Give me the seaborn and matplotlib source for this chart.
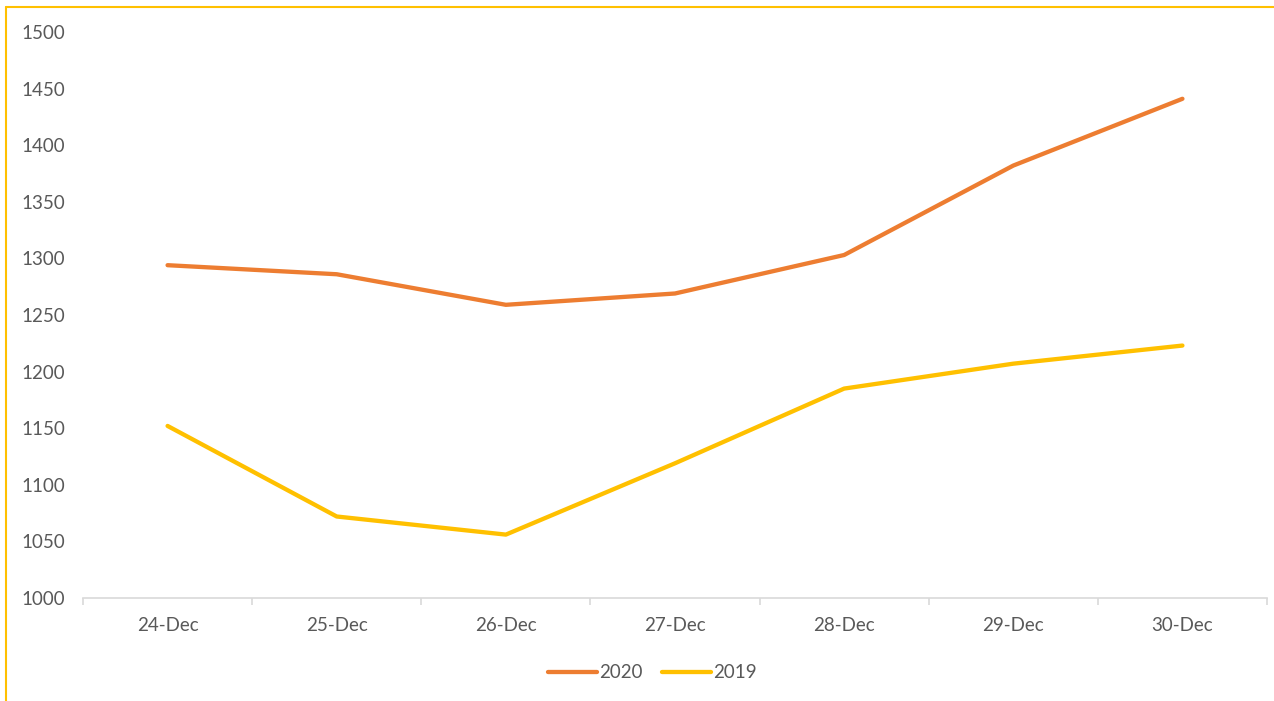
import pandas as pd
import seaborn as sns
import matplotlib.pyplot as plt
from matplotlib.lines import Line2D

dates = ['24-Dec', '25-Dec', '26-Dec', '27-Dec', '28-Dec', '29-Dec', '30-Dec']
v2020 = [1294, 1286, 1259, 1269, 1303, 1382, 1441]
v2019 = [1152, 1072, 1056, 1119, 1185, 1207, 1223]

df = pd.DataFrame({
    'date': dates * 2,
    'value': v2020 + v2019,
    'year': ['2020'] * len(dates) + ['2019'] * len(dates),
})

sns.set_theme(style="white")
plt.rcParams['font.family'] = ['Lato', 'DejaVu Sans']

fig = plt.figure(figsize=(12.74, 7.01), dpi=100)
ax = fig.add_axes([83 / 1274, 1 - 598 / 701, (1267 - 83) / 1274, (598 - 32) / 701])

palette = {'2020': '#ED7D31', '2019': '#FFC000'}
sns.lineplot(data=df, x='date', y='value', hue='year', palette=palette,
             linewidth=3.1, ax=ax, sort=False)
for ln in ax.lines:
    ln.set_solid_capstyle('round')
    ln.set_solid_joinstyle('round')

ax.set_xlim(-0.5, len(dates) - 0.5)
ax.set_ylim(1000, 1500)
ax.set_yticks(range(1000, 1501, 50))
ax.set_xlabel('')
ax.set_ylabel('')

for s in ['top', 'right', 'left']:
    ax.spines[s].set_visible(False)
ax.spines['bottom'].set_color('#D9D9D9')
ax.spines['bottom'].set_linewidth(1.2)

# category boundary ticks
ax.set_xticks([i - 0.5 for i in range(len(dates) + 1)], minor=True)
ax.tick_params(axis='x', which='minor', bottom=True, length=5, width=1.2,
               color='#D9D9D9', direction='out')
ax.tick_params(axis='x', which='major', bottom=False, length=0, pad=14,
               labelsize=13.5, labelcolor='#595959')
ax.tick_params(axis='y', left=False, length=0, pad=13, labelsize=13.5,
               labelcolor='#595959')

leg = ax.legend(loc='upper center', bbox_to_anchor=(0.481, -0.087), ncol=2,
                frameon=False, fontsize=13.5, handlelength=2.6,
                handletextpad=0.15, columnspacing=1.0)
for t in leg.get_texts():
    t.set_color('#595959')

# chart area border (yellow)
fig.add_artist(Line2D([6 / 1274, 1], [1 - 7 / 701, 1 - 7 / 701],
                      transform=fig.transFigure, color='#FFC000', lw=1.5))
fig.add_artist(Line2D([6 / 1274, 6 / 1274], [1 - 7 / 701, 0],
                      transform=fig.transFigure, color='#FFC000', lw=1.5))

fig.savefig('out.png', dpi=100)
